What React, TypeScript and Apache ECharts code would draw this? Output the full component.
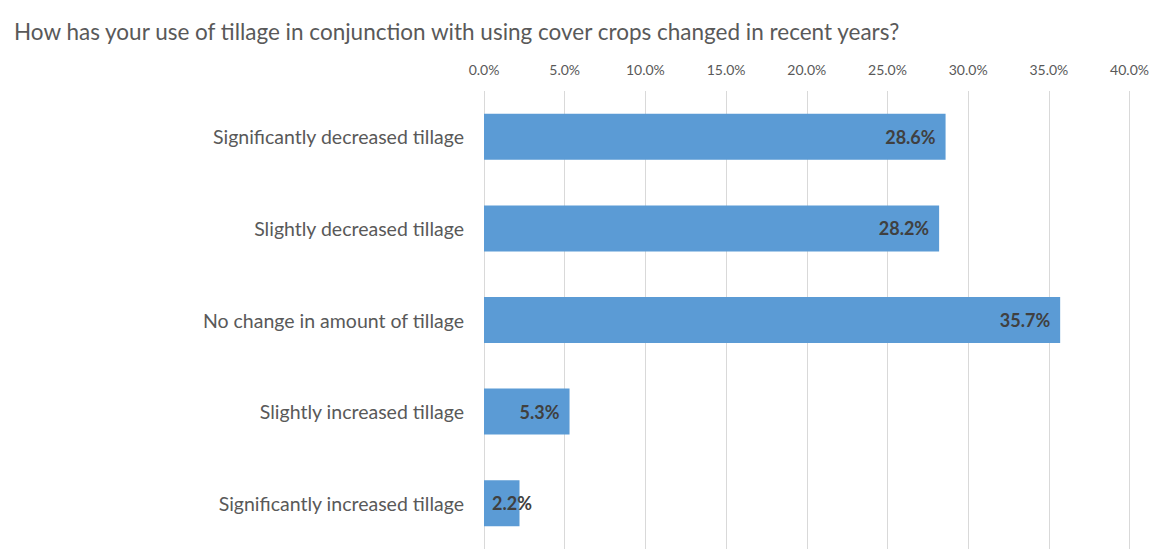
import React, { useEffect, useRef } from "react";
import * as echarts from "echarts";

const title = "How has your use of tillage in conjunction with using cover crops changed in recent years?";
const categories = [
  "Significantly decreased tillage",
  "Slightly decreased tillage",
  "No change in amount of tillage",
  "Slightly increased tillage",
  "Significantly increased tillage",
];
const values = [28.6, 28.2, 35.7, 5.3, 2.2];

export default function App() {
  const ref = useRef<HTMLDivElement>(null);
  useEffect(() => {
    const chart = echarts.init(ref.current!, null, { renderer: "svg" });
    const font = "Lato, 'Open Sans', sans-serif";
    chart.setOption({
      animation: false,
      title: {
        text: title,
        left: 9,
        top: 15,
        textStyle: { fontFamily: font, fontSize: 22.5, fontWeight: "normal", color: "#595959" },
      },
      grid: { left: 484, right: 20, top: 91, height: 462, containLabel: false },
      xAxis: {
        type: "value",
        position: "top",
        min: 0,
        max: 40,
        interval: 5,
        axisLine: { show: false },
        axisTick: { show: false },
        axisLabel: {
          margin: 15,
          fontFamily: font,
          fontSize: 14,
          color: "#595959",
          formatter: (v: number) => v.toFixed(1) + "%",
        },
        splitLine: { show: true, lineStyle: { color: "#d9d9d9", width: 1 } },
      },
      yAxis: {
        type: "category",
        inverse: true,
        data: categories,
        axisLine: { show: false },
        axisTick: { show: false },
        axisLabel: { margin: 20, fontFamily: font, fontSize: 19.5, color: "#595959" },
      },
      series: [
        {
          type: "bar",
          barWidth: 46,
          data: values.map((v, i) => ({
            value: v,
            label: i === values.length - 1 ? { position: "insideLeft", distance: 8 } : undefined,
          })),
          itemStyle: { color: "#5b9bd5" },
          label: {
            show: true,
            position: "insideRight",
            distance: 10,
            fontFamily: font,
            fontSize: 18,
            fontWeight: "bold",
            color: "#404040",
            formatter: (p: any) => p.value.toFixed(1) + "%",
          },
        },
      ],
    });
    return () => chart.dispose();
  }, []);
  return (
    <div
      ref={ref}
      style={{ position: "absolute", left: 0, top: 0, width: 1152, height: 549, background: "#fff" }}
    />
  );
}
